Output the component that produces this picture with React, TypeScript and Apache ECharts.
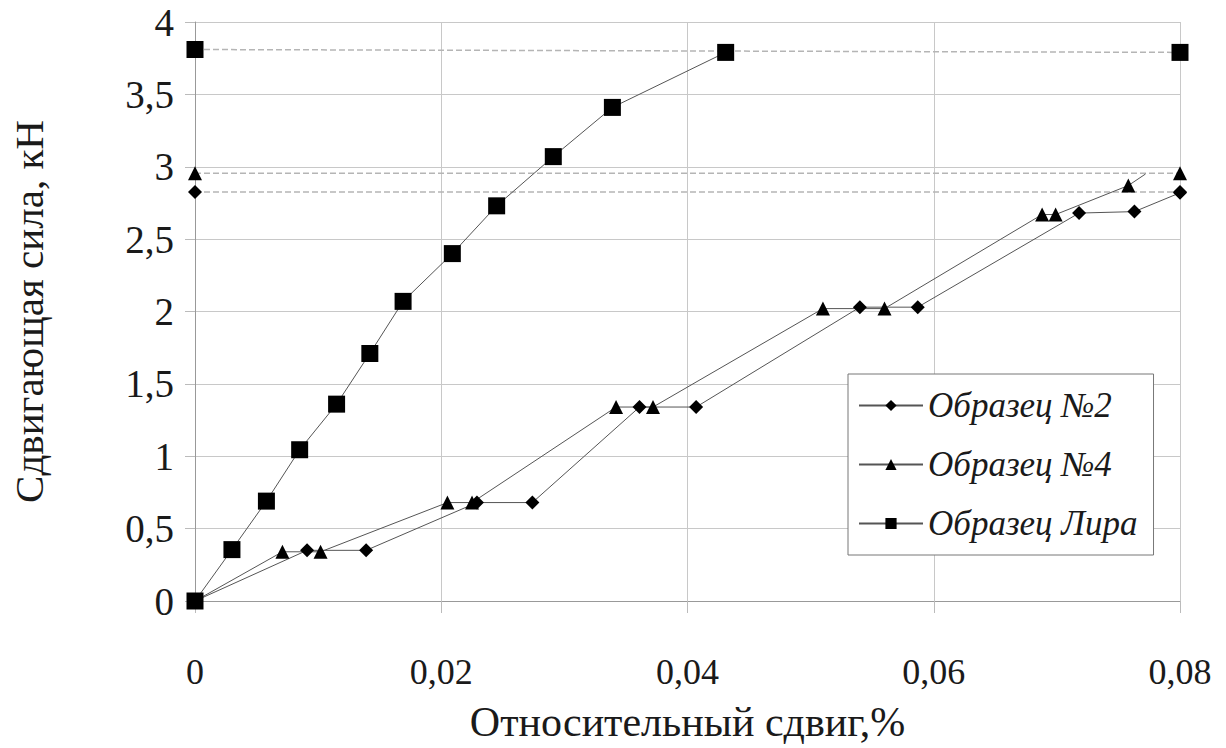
import React, { useEffect, useRef } from "react";
import * as echarts from "echarts";

// Образец №2 (diamonds)
const sample2X = [0, 0.0091, 0.0139, 0.0229, 0.0274, 0.0361, 0.0407, 0.054, 0.0587, 0.0718, 0.0763, 0.08];
const sample2Y = [0, 0.35, 0.35, 0.68, 0.68, 1.34, 1.34, 2.03, 2.03, 2.68, 2.69, 2.82];
// Образец №4 (triangles); last point is a line end without marker
const sample4X = [0, 0.0071, 0.0102, 0.0205, 0.0225, 0.0342, 0.0372, 0.051, 0.056, 0.0688, 0.0699, 0.0758, 0.0772];
const sample4Y = [0, 0.34, 0.34, 0.68, 0.68, 1.34, 1.34, 2.02, 2.02, 2.67, 2.67, 2.87, 2.95];
// Образец Лира (squares)
const liraX = [0, 0.003, 0.0058, 0.0085, 0.0115, 0.0142, 0.0169, 0.0209, 0.0245, 0.0291, 0.0339, 0.0431];
const liraY = [0, 0.355, 0.69, 1.045, 1.36, 1.71, 2.07, 2.4, 2.73, 3.07, 3.41, 3.79];
// dashed limit lines [x0, x1], [y0, y1]
const limitX = [0, 0.08];
const limit2Y = [2.825, 2.825];
const limit4Y = [2.955, 2.955];
const limitLiraY = [3.81, 3.79];

const seriesNames = ["Образец №2", "Образец №4", "Образец Лира"];
const xTitle = "Относительный сдвиг,%";
const yTitle = "Сдвигающая сила, кН";

const FONT = "Times New Roman";
const INK = "#1a1a1a";

function pairs(xs: number[], ys: number[]) {
  return xs.map((x, i) => [x, ys[i]]);
}

const fmt = (v: number) => String(Math.round(v * 1000) / 1000).replace(".", ",");

export default function App() {
  const ref = useRef<HTMLDivElement>(null);
  useEffect(() => {
    if (!ref.current) return;
    const chart = echarts.init(ref.current, undefined, { renderer: "svg" });
    const lineStyle = { color: "#555", width: 1 };
    const dashed = (name: string, ys: number[], symbol: string, size: number) => ({
      name,
      type: "line",
      data: pairs(limitX, ys),
      symbol,
      symbolSize: size,
      itemStyle: { color: "#000" },
      lineStyle: { color: "#b5b5b5", width: 1.5, type: "dashed" },
      z: 1,
    });
    const s4data = pairs(sample4X, sample4Y).map((p, i) =>
      i === sample4X.length - 1 ? { value: p, symbol: "none" } : p
    );
    chart.setOption({
      animation: false,
      textStyle: { fontFamily: FONT },
      grid: { left: 187, right: 46, top: 22, bottom: 139, containLabel: false },
      xAxis: {
        type: "value",
        min: 0,
        max: 0.08,
        interval: 0.02,
        name: xTitle,
        nameLocation: "middle",
        nameGap: 100,
        nameTextStyle: { fontFamily: FONT, fontSize: 42, color: INK },
        axisLine: { show: true, lineStyle: { color: "#999", width: 1 } },
        axisTick: { show: true, length: 12, lineStyle: { color: "#bbb" } },
        axisLabel: { margin: 53, fontFamily: FONT, fontSize: 36, color: INK, formatter: fmt },
        splitLine: { show: true, lineStyle: { color: "#c8c8c8", width: 1 } },
      },
      yAxis: {
        type: "value",
        min: 0,
        max: 4,
        interval: 0.5,
        name: yTitle,
        nameLocation: "middle",
        nameGap: 146,
        nameTextStyle: { fontFamily: FONT, fontSize: 41, color: INK },
        axisLine: { show: true, lineStyle: { color: "#999", width: 1 } },
        axisTick: { show: true, length: 10, lineStyle: { color: "#bbb" } },
        axisLabel: { margin: 21, fontFamily: FONT, fontSize: 39, color: INK, formatter: fmt },
        splitLine: { show: true, lineStyle: { color: "#c8c8c8", width: 1 } },
      },
      legend: {
        data: seriesNames,
        orient: "vertical",
        left: 848,
        top: 374,
        backgroundColor: "#fff",
        borderColor: "#777",
        borderWidth: 1,
        padding: [14, 16, 14, 10],
        itemWidth: 64,
        itemHeight: 14,
        itemGap: 24,
        textStyle: { fontFamily: FONT, fontSize: 35, fontStyle: "italic", color: INK },
      },
      series: [
        dashed("lim2", limit2Y, "diamond", 14),
        dashed("lim4", limit4Y, "triangle", 14),
        dashed("limL", limitLiraY, "rect", 17),
        {
          name: seriesNames[0],
          type: "line",
          data: pairs(sample2X, sample2Y),
          symbol: "diamond",
          symbolSize: 14,
          itemStyle: { color: "#000" },
          lineStyle,
          z: 3,
        },
        {
          name: seriesNames[1],
          type: "line",
          data: s4data,
          symbol: "triangle",
          symbolSize: 14,
          itemStyle: { color: "#000" },
          lineStyle,
          z: 3,
        },
        {
          name: seriesNames[2],
          type: "line",
          data: pairs(liraX, liraY),
          symbol: "rect",
          symbolSize: 17,
          itemStyle: { color: "#000" },
          lineStyle,
          z: 3,
        },
      ],
    });
    return () => chart.dispose();
  }, []);
  return (
    <div
      ref={ref}
      style={{ position: "fixed", left: 0, top: 0, width: 1226, height: 748, background: "#fff" }}
    />
  );
}
